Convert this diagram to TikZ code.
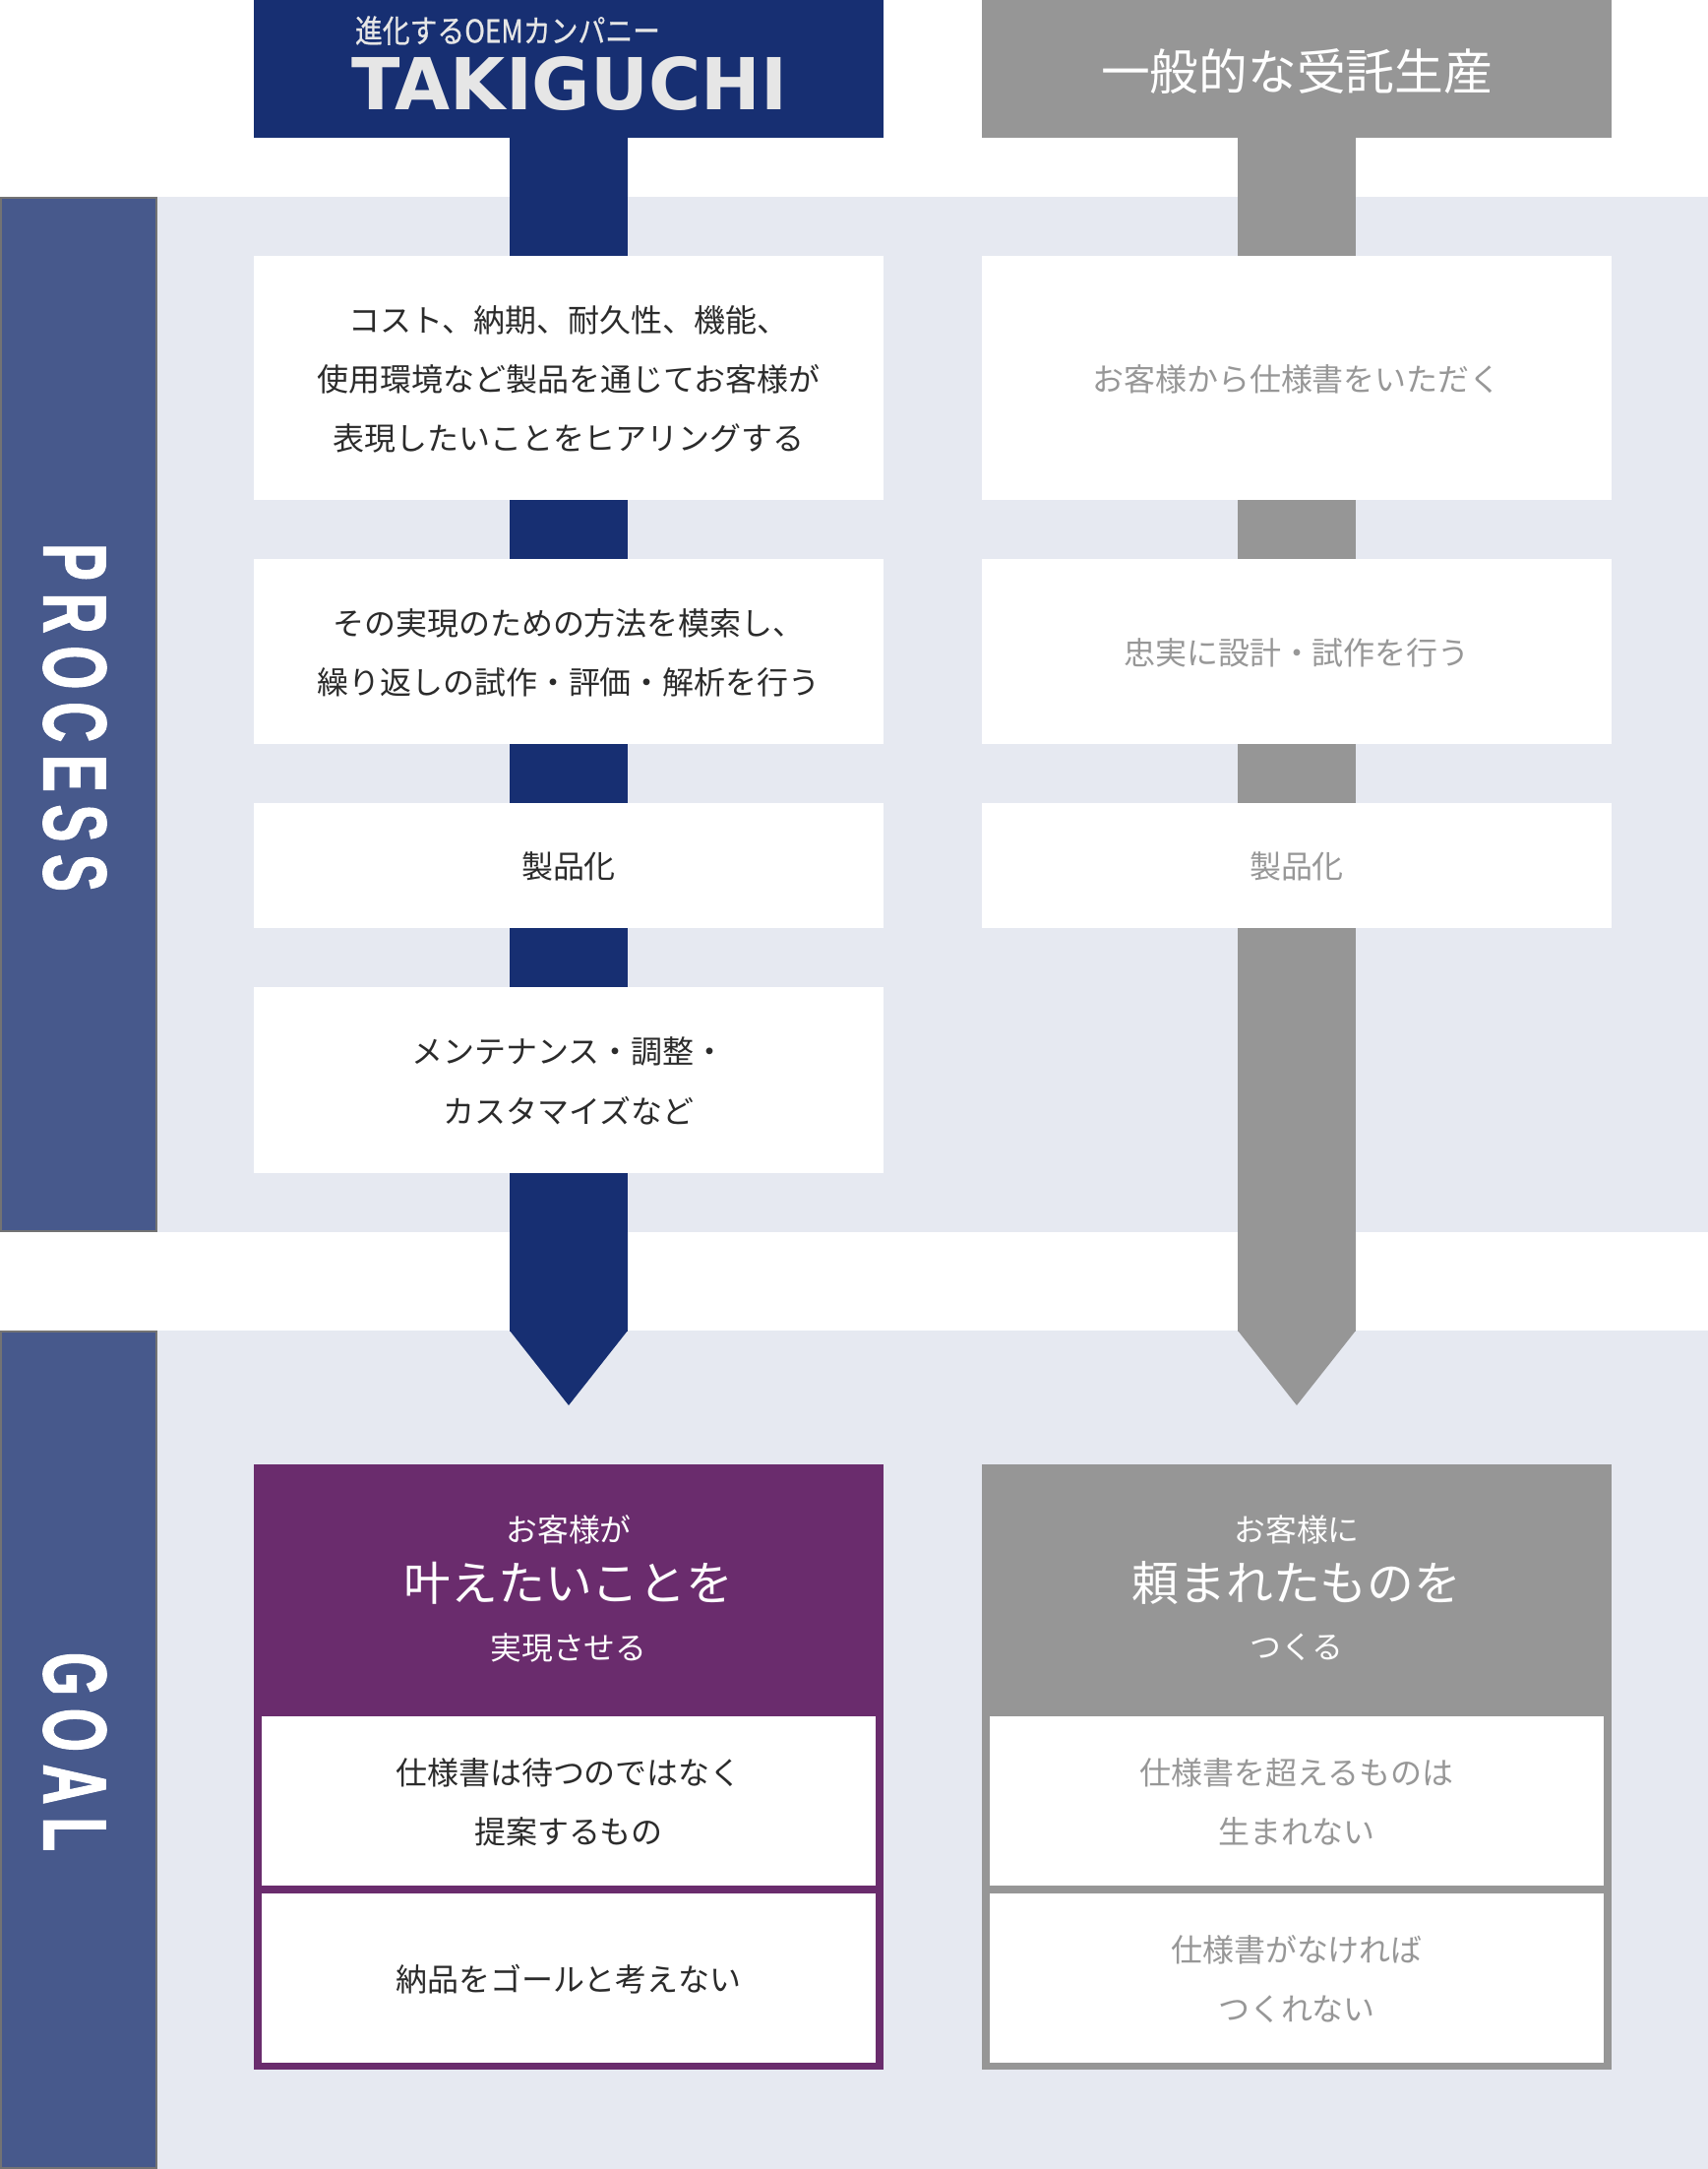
\documentclass[tikz,border=0pt]{standalone}
\usepackage{fontspec}
\setmainfont{Noto Sans CJK JP}
\newfontfamily\logofont{DejaVu Sans Bold}
\newfontfamily\logosubfont[FakeBold=0.8]{Noto Sans CJK JP}
\newfontfamily\sidefont[FakeStretch=0.62,LetterSpace=14,FakeBold=1.2]{Liberation Sans Bold}
\definecolor{navy}{HTML}{172F72}
\definecolor{plum}{HTML}{6A2C6D}
\definecolor{ash}{HTML}{969696}
\definecolor{panel}{HTML}{E6E9F1}
\definecolor{sidebar}{HTML}{47598C}
\definecolor{inkdark}{HTML}{2B2B2B}
\definecolor{inkgrey}{HTML}{979797}
\definecolor{logogrey}{HTML}{E6E6E6}
\tikzset{
    colbox/.style={fill=white, minimum width=6.4cm, inner sep=0, align=center, text depth=-1pt, font=\fontsize{9.1}{17.1}\selectfont},
    navybox/.style={colbox, text=inkdark},
    ashbox/.style={colbox, text=inkgrey},
    headbox/.style={minimum width=6.4cm, minimum height=1.4cm, inner sep=0, text=white},
    navystem/.style={navy, line width=1.2cm, shorten >=-0.2pt, shorten <=-0.2pt},
    ashstem/.style={ash, line width=1.2cm, shorten >=-0.2pt, shorten <=-0.2pt},
    sidebox/.style={fill=sidebar, draw=gray!90!black, line width=0.6pt, minimum width=1.58cm, inner sep=0},
    sidelabel/.style={rotate=-90, text=white, inner sep=0, font=\fontsize{26}{26}\sidefont},
    goalbox/.style={minimum width=6.4cm, minimum height=6.15cm, inner sep=0},
    goalitem/.style={fill=white, minimum width=6.24cm, inner sep=0, align=center, text depth=-0.3pt, font=\fontsize{9.1}{17.1}\selectfont},
    goalsmall/.style={inner sep=0, text=white, font=\fontsize{9.05}{9}\selectfont},
    goalbig/.style={inner sep=0, text=white, font=\fontsize{13.6}{13.6}\selectfont}
}

\begin{document}
\begin{tikzpicture}
    \useasboundingbox (0, 0) rectangle (17.36, -22.04);
    % panels
    \fill [panel] (1.6, -2) rectangle (17.36, -12.52);
    \fill [panel] (1.6, -13.52) rectangle (17.36, -22.04);
    \node [sidebox, minimum height=10.5cm] (processbar) at (0.8, -7.26) {};
    \node [sidebox, minimum height=8.5cm] (goalbar) at (0.8, -17.78) {};
    \node [sidelabel] (processlabel) at (0.76, -7.29) {PROCESS};
    \node [sidelabel] (goallabel) at (0.76, -17.8) {GOAL};

    % left column
    \node [headbox, fill=navy] (navyhead) at (5.78, -0.7) {};
    \node [text=logogrey, inner sep=0] (logosub) at (5.16, -0.31) {\resizebox{3.1cm}{0.27cm}{\logosubfont 進化するOEMカンパニー}};
    \node [text=logogrey, inner sep=0] (logoname) at (5.79, -0.85) {\resizebox{4.42cm}{0.54cm}{\logofont TAKIGUCHI}};
    \node [navybox, minimum height=2.48cm] (navyask) at (5.78, -3.84) {コスト、納期、耐久性、機能、\\使用環境など製品を通じてお客様が\\表現したいことをヒアリングする};
    \node [navybox, minimum height=1.88cm] (navytrial) at (5.78, -6.62) {その実現のための方法を模索し、\\繰り返しの試作・評価・解析を行う};
    \node [navybox, minimum height=1.27cm] (navymake) at (5.78, -8.795) {製品化};
    \node [navybox, minimum height=1.89cm] (navycare) at (5.78, -10.975) {メンテナンス・調整・\\カスタマイズなど};
    \draw [navystem] (navyhead) -- (navyask);
    \draw [navystem] (navyask) -- (navytrial);
    \draw [navystem] (navytrial) -- (navymake);
    \draw [navystem] (navymake) -- (navycare);
    \coordinate (navybase) at (5.78, -13.52);
    \draw [navystem] (navycare) -- (navybase);
    \fill [navy] (5.18, -13.52) -- (6.38, -13.52) -- (5.78, -14.28) -- cycle;

    % right column
    \node [headbox, fill=ash, text depth=-1pt, font=\fontsize{14.15}{14.15}\selectfont] (ashhead) at (13.18, -0.7) {一般的な受託生産};
    \node [ashbox, minimum height=2.48cm] (ashask) at (13.18, -3.84) {お客様から仕様書をいただく};
    \node [ashbox, minimum height=1.88cm] (ashtrial) at (13.18, -6.62) {忠実に設計・試作を行う};
    \node [ashbox, minimum height=1.27cm] (ashmake) at (13.18, -8.795) {製品化};
    \draw [ashstem] (ashhead) -- (ashask);
    \draw [ashstem] (ashask) -- (ashtrial);
    \draw [ashstem] (ashtrial) -- (ashmake);
    \coordinate (ashbase) at (13.18, -13.52);
    \draw [ashstem] (ashmake) -- (ashbase);
    \fill [ash] (12.58, -13.52) -- (13.78, -13.52) -- (13.18, -14.28) -- cycle;

    % goals
    \node [goalbox, fill=plum] (plumgoal) at (5.78, -17.955) {};
    \node [goalsmall] (plumone) at (5.78, -15.54) {お客様が};
    \node [goalbig] (plumtwo) at (5.78, -16.085) {叶えたいことを};
    \node [goalsmall] (plumthree) at (5.78, -16.74) {実現させる};
    \node [goalitem, text=inkdark, minimum height=1.72cm] (plumitema) at (5.78, -18.3) {仕様書は待つのではなく\\提案するもの};
    \node [goalitem, text=inkdark, minimum height=1.72cm] (plumitemb) at (5.78, -20.1) {納品をゴールと考えない};

    \node [goalbox, fill=ash] (ashgoal) at (13.18, -17.955) {};
    \node [goalsmall] (ashone) at (13.18, -15.54) {お客様に};
    \node [goalbig] (ashtwo) at (13.18, -16.085) {頼まれたものを};
    \node [goalsmall] (ashthree) at (13.18, -16.74) {つくる};
    \node [goalitem, text=inkgrey, minimum height=1.72cm] (ashitema) at (13.18, -18.3) {仕様書を超えるものは\\生まれない};
    \node [goalitem, text=inkgrey, minimum height=1.72cm] (ashitemb) at (13.18, -20.1) {仕様書がなければ\\つくれない};
\end{tikzpicture}
\end{document}
